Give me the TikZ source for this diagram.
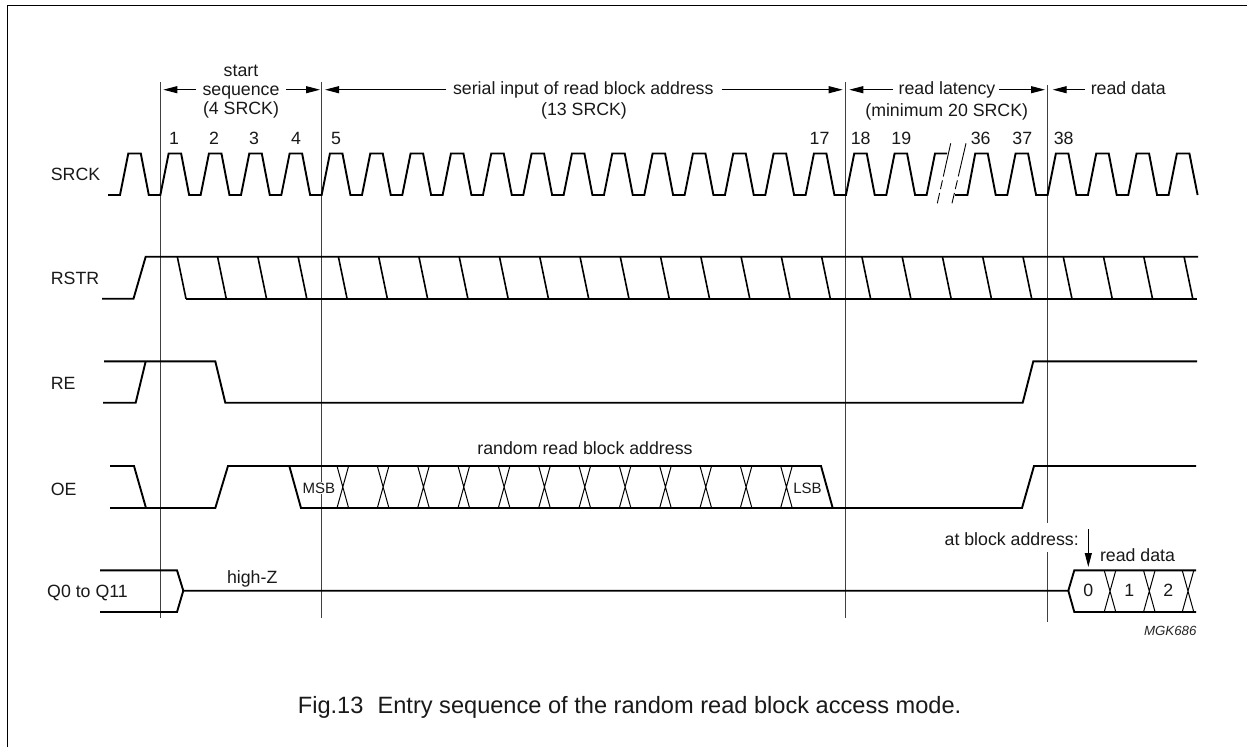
\documentclass[tikz,border=0pt]{standalone}
\usepackage{fontspec}
\setmainfont{Liberation Sans}
\usetikzlibrary{arrows.meta}
\newcommand{\fa}{\fontsize{17.75}{20}\selectfont}
\newcommand{\fb}{\fontsize{15}{17}\selectfont}
\tikzset{
  wave/.style={line width=1.9pt,line join=miter},
  thin line/.style={line width=1pt},
  guide/.style={line width=1pt,draw=black!75},
  lab/.style={inner sep=0pt,font=\fa,text=black!90,anchor=base},
  small/.style={inner sep=0pt,font=\fb,text=black!90,anchor=base},
  dim/.style={line width=1pt,-{Triangle[length=14pt,width=7pt]}},
}
\begin{document}
\begin{tikzpicture}[x=1pt,y=-1pt]
\useasboundingbox (0,0) rectangle (1247,747);
\fill[white] (0,0) rectangle (1247,747);
% frame
\draw[line width=1.6pt] (7.3,747) -- (7.3,5.3) -- (1247,5.3);
% guides
\draw[guide] (160.3,82.3) -- (160.3,618);
\draw[guide] (321.7,82.3) -- (321.7,618);
\draw[guide] (845,82.3) -- (845,618);
\draw[guide] (1047.7,85) -- (1047.7,523);
\draw[guide] (1047.7,552) -- (1047.7,622);
% SRCK
\draw[wave] (108,195) -- (120,195)
  \foreach \k in {0,...,19} { -- ({120+\k*40.33+8.3},153.5) -- ({120+\k*40.33+20.8},153.5) -- ({120+\k*40.33+28.8},195) -- ({120+\k*40.33+40.33},195) }
  -- (935,153.5) -- (947.2,153.5);
\draw[wave] (955,195) -- (967.4,195)
  \foreach \k in {21,...,25} { -- ({120+\k*40.33+8.3},153.5) -- ({120+\k*40.33+20.8},153.5) -- ({120+\k*40.33+28.8},195) -- ({120+\k*40.33+40.33},195) }
  -- ({120+26*40.33+8.3},153.5) -- ({120+26*40.33+20.8},153.5) -- (1197.6,195);
% break marks
\draw[line width=0.9pt,dash pattern=on 34pt off 4pt on 9pt off 4pt] (950.7,143.3) -- (937.3,203.3);
\draw[line width=0.9pt,dash pattern=on 34pt off 4pt on 9pt off 4pt] (966,143.3) -- (952,203.3);
% RSTR
\draw[wave] (102,298.7) -- (133.5,298.7) -- (145.7,256.7) -- (1198,256.7);
\draw[wave] (186,298.7) -- (1197,298.7);
\foreach \k in {0,...,25} \draw[wave,line width=1.6pt] ({177.3+\k*40.27},256.7) -- ({186+\k*40.27},298.7);
% RE
\draw[wave] (104,361.3) -- (215.3,361.3) -- (225.3,402.7) -- (1022.7,402.7) -- (1033.3,361.3) -- (1197,361.3);
\draw[wave] (103,402.7) -- (135.7,402.7) -- (145.7,361.3);
% OE
\draw[wave] (110,466) -- (134,466) -- (146,508) -- (215.3,508) -- (228,466) -- (821,466) -- (832.7,508) -- (1022,508) -- (1034,466) -- (1196,466);
\draw[wave] (110,508) -- (146,508);
\draw[wave] (289.3,466) -- (301,508) -- (832.7,508);
\foreach \k in {0,...,11} \draw[thin line] ({337+\k*40.33},466) -- ({348.6+\k*40.33},508) ({348.6+\k*40.33},466) -- ({337+\k*40.33},508);
% Q
\draw[wave] (100,570.3) -- (177,570.3) -- (183.3,590.7) -- (177,612) -- (100,612);
\draw[wave] (183.3,590.7) -- (1068.3,590.7) -- (1074.3,570.3) -- (1196,570.3);
\draw[wave] (1068.3,590.7) -- (1074.3,612) -- (1196,612);
\foreach \c in {1110,1149.3,1188} \draw[thin line] ({\c-5.8},570.3) -- ({\c+5.8},612) ({\c+5.8},570.3) -- ({\c-5.8},612);
% dimension arrows
\coordinate (s1) at (196,89.7); \coordinate (s1t) at (163.3,89.7);
\draw[dim] (s1) -- (s1t);
\coordinate (s2) at (286,89.7); \coordinate (s2t) at (320,89.7);
\draw[dim] (s2) -- (s2t);
\coordinate (a1) at (446.3,89.7); \coordinate (a1t) at (325,89.7);
\draw[dim] (a1) -- (a1t);
\coordinate (a2) at (721.7,89.7); \coordinate (a2t) at (842.7,89.7);
\draw[dim] (a2) -- (a2t);
\coordinate (l1) at (893,89.7); \coordinate (l1t) at (849.3,89.7);
\draw[dim] (l1) -- (l1t);
\coordinate (l2) at (999,89.7); \coordinate (l2t) at (1045,89.7);
\draw[dim] (l2) -- (l2t);
\coordinate (d1) at (1085,89.7); \coordinate (d1t) at (1052.7,89.7);
\draw[dim] (d1) -- (d1t);
\coordinate (b1) at (1088.3,529) ; \coordinate (b1t) at (1088.3,567);
\draw[dim] (b1) -- (b1t);
% texts
\node[lab] (t1) at (241,76.7) {start};
\node[lab] (t2) at (241,95) {sequence};
\node[lab] (t3) at (241,114) {(4 SRCK)};
\node[lab] (t4) at (583.3,94.3) {serial input of read block address};
\node[lab] (t5) at (584,115.5) {(13 SRCK)};
\node[lab] (t6) at (947,94.3) {read latency};
\node[lab] (t7) at (946.7,116) {(minimum 20 SRCK)};
\node[lab] (t8) at (1128.3,94.3) {read data};
\foreach \x/\s/\n in {174/1/n1,214/2/n2,254/3/n3,296/4/n4,336/5/n5,819.5/17/n17,860.7/18/n18,901.3/19/n19,980.7/36/n36,1022.3/37/n37,1063.7/38/n38}
  \node[lab] (\n) at (\x,144.3) {\s};
\node[lab,anchor=base west] (sig1) at (50.7,180) {SRCK};
\node[lab,anchor=base west] (sig2) at (50.7,284) {RSTR};
\node[lab,anchor=base west] (sig3) at (50.7,389) {RE};
\node[lab,anchor=base west] (sig4) at (50.7,495.7) {OE};
\node[lab,anchor=base west] (sig5) at (47,597.7) {Q0 to Q11};
\node[lab] (hz) at (252.2,583.3) {high-Z};
\node[lab] (rr) at (585,454.3) {random read block address};
\node[small,fill=white,inner sep=1pt] (msb) at (318.8,493.3) {MSB};
\node[small] (lsb) at (807.5,493.3) {LSB};
\node[lab,anchor=base east] (ab) at (1079,545) {at block address:};
\node[lab] (rd) at (1137.5,561) {read data};
\node[lab] (v0) at (1088.3,596.7) {0};
\node[lab] (v1) at (1129.3,596.7) {1};
\node[lab] (v2) at (1168.3,596.7) {2};
\node[inner sep=0pt,font=\fontsize{13.3}{15}\selectfont\itshape,text=black!85,anchor=base east] (mgk) at (1196.7,635) {MGK686};
\node[inner sep=0pt,font=\fontsize{23.6}{26}\selectfont,text=black!90,anchor=base] (cap) at (629.6,713) {Fig.13\hspace{0.6em}Entry sequence of the random read block access mode.};
\end{tikzpicture}
\end{document}
